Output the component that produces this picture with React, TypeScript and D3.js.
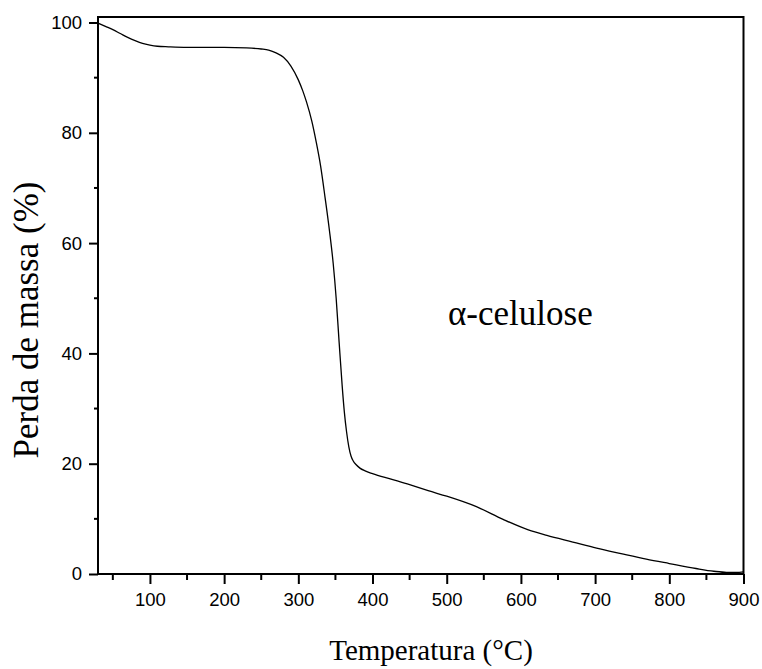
import { useEffect, useRef } from "react";
import * as d3 from "d3";

// TGA curve of alpha-cellulose
const temps = [
  30, 40, 50, 60, 70, 80, 90, 100, 110, 125, 150, 200, 230, 250, 260, 270, 280, 290, 300, 306,
  311, 318, 324, 330, 336, 342, 347, 351, 355, 359, 362, 365, 368, 371, 374, 378, 383, 390, 400,
  425, 450, 475, 500, 540, 576, 610, 635, 670, 702, 735, 769, 800, 836, 860, 877, 890, 900,
];
const mass = [
  99.9, 99.3, 98.7, 98.0, 97.3, 96.7, 96.2, 95.9, 95.7, 95.6, 95.5, 95.5, 95.4, 95.2, 95.0, 94.5,
  93.7, 92.1, 89.6, 87.6, 85.6, 82.2, 78.4, 74.0, 68.3, 62.2, 56.3, 50.0, 42.0, 34.3, 29.4, 25.8,
  23.1, 21.4, 20.5, 19.8, 19.2, 18.7, 18.2, 17.2, 16.2, 15.1, 14.1, 12.2, 9.9, 8.0, 7.0, 5.8, 4.7,
  3.7, 2.7, 1.9, 1.0, 0.5, 0.3, 0.3, 0.4,
];

const xMajor = [100, 200, 300, 400, 500, 600, 700, 800, 900];
const xMinor = [50, 150, 250, 350, 450, 550, 650, 750, 850];
const yMajor = [0, 20, 40, 60, 80, 100];
const yMinor = [10, 30, 50, 70, 90];

const xTitle = "Temperatura (°C)";
const yTitle = "Perda de massa (%)";
const sampleLabel = "α-celulose";

const W = 762;
const H = 669;
const SANS = "'Liberation Sans', Arial, sans-serif";
const SERIF = "'Liberation Serif', 'Times New Roman', serif";

export default function App() {
  const ref = useRef<SVGSVGElement>(null);

  useEffect(() => {
    const svg = d3.select(ref.current);
    svg.selectAll("*").remove();

    const left = 98, right = 743.5, top = 17, bottom = 574;
    const x = d3.scaleLinear().domain([30, 900]).range([left, right]);
    const y = d3.scaleLinear().domain([0, 101]).range([bottom, top]);

    // curve
    const pts = temps.map((t, i) => [t, mass[i]] as [number, number]);
    const line = d3
      .line<[number, number]>()
      .x((d) => x(d[0]))
      .y((d) => y(d[1]))
      .curve(d3.curveMonotoneX);
    svg
      .append("path")
      .datum(pts)
      .attr("d", line)
      .attr("fill", "none")
      .attr("stroke", "#000")
      .attr("stroke-width", 1.3);

    // bottom axis
    const gx = svg
      .append("g")
      .attr("transform", `translate(0,${bottom})`)
      .call(d3.axisBottom(x).tickValues(xMajor).tickSize(10).tickPadding(9).tickFormat((d) => `${d}`));
    gx.select(".domain").remove();
    gx.selectAll("line").attr("stroke-width", 2);
    gx.selectAll("text").attr("font-family", SANS).attr("font-size", "18.5px").attr("fill", "#000");
    gx.append("g")
      .selectAll("line")
      .data(xMinor)
      .join("line")
      .attr("x1", (d) => x(d))
      .attr("x2", (d) => x(d))
      .attr("y1", 0)
      .attr("y2", 6)
      .attr("stroke", "#000")
      .attr("stroke-width", 2);

    // left axis
    const gy = svg
      .append("g")
      .attr("transform", `translate(${left},0)`)
      .call(d3.axisLeft(y).tickValues(yMajor).tickSize(9).tickPadding(7).tickFormat((d) => `${d}`));
    gy.select(".domain").remove();
    gy.selectAll("line").attr("stroke-width", 2);
    gy.selectAll("text").attr("font-family", SANS).attr("font-size", "18.5px").attr("fill", "#000");
    gy.append("g")
      .selectAll("line")
      .data(yMinor)
      .join("line")
      .attr("y1", (d) => y(d))
      .attr("y2", (d) => y(d))
      .attr("x1", 0)
      .attr("x2", -4)
      .attr("stroke", "#000")
      .attr("stroke-width", 2);

    // frame
    svg
      .append("rect")
      .attr("x", left)
      .attr("y", top)
      .attr("width", right - left)
      .attr("height", bottom - top)
      .attr("fill", "none")
      .attr("stroke", "#000")
      .attr("stroke-width", 2);

    // titles
    svg
      .append("text")
      .attr("x", 431)
      .attr("y", 660)
      .attr("text-anchor", "middle")
      .attr("font-family", SERIF)
      .attr("font-size", "29px")
      .text(xTitle);
    svg
      .append("text")
      .attr("transform", `translate(38,${320}) rotate(-90)`)
      .attr("text-anchor", "middle")
      .attr("font-family", SERIF)
      .attr("font-size", "35px")
      .text(yTitle);
    svg
      .append("text")
      .attr("x", 448)
      .attr("y", 325)
      .attr("font-family", SERIF)
      .attr("font-size", "35px")
      .text(sampleLabel);
  }, []);

  return (
    <svg
      ref={ref}
      width={W}
      height={H}
      viewBox={`0 0 ${W} ${H}`}
      style={{ position: "absolute", left: 0, top: 0, background: "#fff", display: "block" }}
    />
  );
}
